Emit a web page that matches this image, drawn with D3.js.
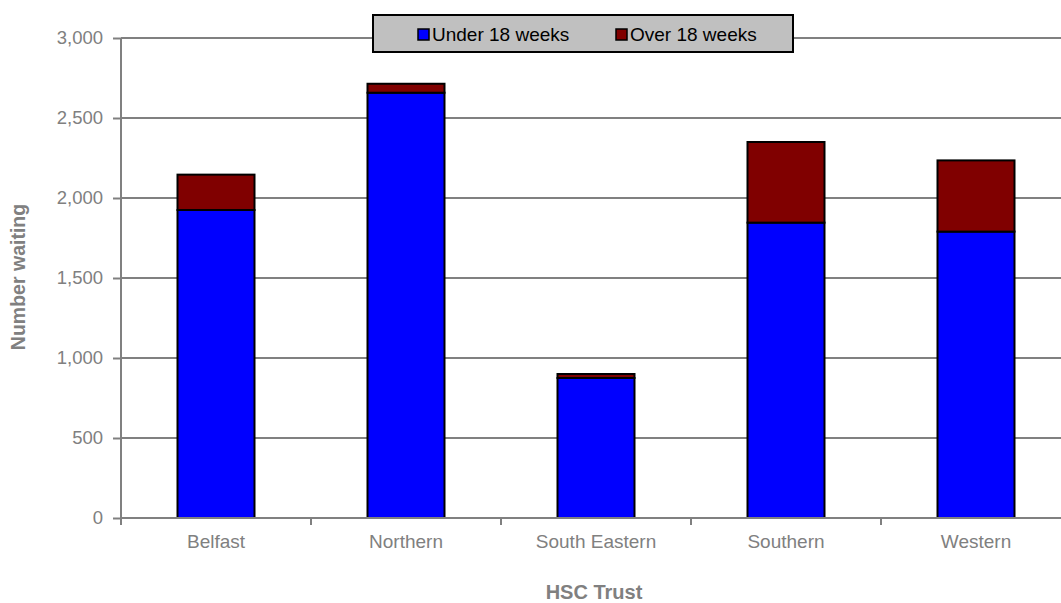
<!DOCTYPE html>
<html>
<head>
<meta charset="utf-8">
<script src="https://d3js.org/d3.v7.min.js"></script>
<style>
  body { margin:0; background:#fff; }
  text { font-family: "Liberation Sans", Arial, sans-serif; }
</style>
</head>
<body>
<svg width="1061" height="603"></svg>
<script>
var trusts = ["Belfast","Northern","South Eastern","Southern","Western"];
var under18 = [1925, 2658, 875, 1846, 1790];
var over18 = [221, 56, 25, 504, 445];
var seriesNames = ["Under 18 weeks","Over 18 weeks"];
var seriesColors = ["#0000ff","#800000"];
var yTicks = [0,500,1000,1500,2000,2500,3000];

var svg = d3.select("svg");
var plotLeft = 121, plotTop = 38, plotBottom = 518, plotRight = 1071;

var x = d3.scaleBand().domain(trusts).range([plotLeft,plotRight]).paddingInner(0).paddingOuter(0);
var y = d3.scaleLinear().domain([0,3000]).range([plotBottom,plotTop]);

// gridlines
svg.append("g").selectAll("line").data(yTicks.slice(1)).enter().append("line")
  .attr("x1",plotLeft).attr("x2",plotRight)
  .attr("y1",function(d){return y(d);}).attr("y2",function(d){return y(d);})
  .attr("stroke","#808080").attr("stroke-width",2);

var rows = trusts.map(function(t,i){ return {trust:t, under:under18[i], over:over18[i]}; });
var stack = d3.stack().keys(["under","over"])(rows);

var bw = 77;
svg.append("g").selectAll("g").data(stack).enter().append("g")
  .attr("fill",function(d,i){return seriesColors[i];})
  .selectAll("rect").data(function(d){return d;}).enter().append("rect")
  .attr("x",function(d){return x(d.data.trust)+x.bandwidth()/2-bw/2;})
  .attr("width",bw)
  .attr("y",function(d){return y(d[1]);})
  .attr("height",function(d){return y(d[0])-y(d[1]);})
  .attr("stroke","#000").attr("stroke-width",2);

// y axis
var yAxis = svg.append("g").attr("transform","translate("+plotLeft+",0)")
  .call(d3.axisLeft(y).tickValues(yTicks).tickSize(8).tickPadding(10).tickFormat(d3.format(",")));
yAxis.select(".domain").attr("stroke","#808080").attr("stroke-width",2).attr("d","M0,"+plotTop+"V"+plotBottom);
yAxis.selectAll(".tick line").attr("stroke","#808080").attr("stroke-width",2);
yAxis.selectAll(".tick text").attr("fill","#808080").attr("font-size",18.5);

// x axis
var xAxis = svg.append("g").attr("transform","translate(0,"+plotBottom+")")
  .call(d3.axisBottom(x).tickSize(0).tickPadding(17));
xAxis.select(".domain").attr("stroke","#808080").attr("stroke-width",2).attr("d","M"+plotLeft+",0H"+plotRight);
xAxis.selectAll(".tick text").attr("fill","#808080").attr("font-size",19);
svg.append("g").selectAll("line").data(trusts).enter().append("line")
  .attr("x1",function(d){return x(d);}).attr("x2",function(d){return x(d);})
  .attr("y1",plotBottom).attr("y2",plotBottom+7)
  .attr("stroke","#808080").attr("stroke-width",2);

// axis titles
svg.append("text").attr("x",594).attr("y",599)
  .attr("text-anchor","middle").attr("font-size",20).attr("font-weight","bold").attr("fill","#808080")
  .text("HSC Trust");
svg.append("text").attr("transform","translate(25,277) rotate(-90)")
  .attr("text-anchor","middle").attr("font-size",19.5).attr("font-weight","bold").attr("fill","#808080")
  .text("Number waiting");

// legend
var lg = svg.append("g");
lg.append("rect").attr("x",373).attr("y",15).attr("width",420).attr("height",37)
  .attr("fill","#c0c0c0").attr("stroke","#000").attr("stroke-width",2);
var lx = [418, 616];
seriesNames.forEach(function(n,i){
  lg.append("rect").attr("x",lx[i]).attr("y",29).attr("width",11).attr("height",11)
    .attr("fill",seriesColors[i]).attr("stroke","#000").attr("stroke-width",1.5);
  lg.append("text").attr("x",lx[i]+14).attr("y",41).attr("font-size",19).attr("fill","#000")
    .text(n);
});
</script>
</body>
</html>
